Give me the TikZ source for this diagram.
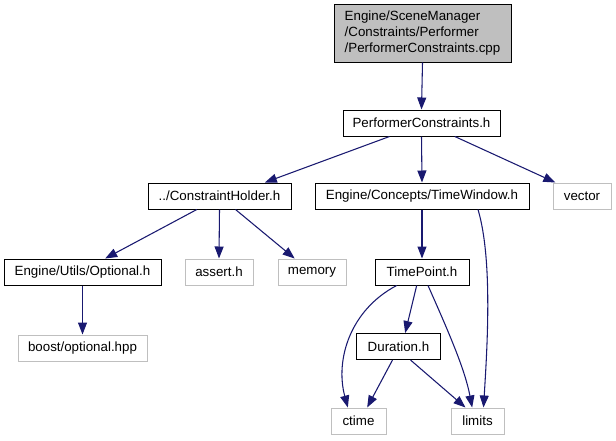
\documentclass[tikz,border=0pt]{standalone}
\usepackage{fontspec}
\setmainfont{Liberation Sans}
\usetikzlibrary{arrows.meta}
\definecolor{edgeblue}{HTML}{191970}
\definecolor{extgray}{HTML}{BFBFBF}
\begin{document}
\begin{tikzpicture}[x=0.75pt,y=-0.75pt,
  every node/.style={font=\fontsize{10}{12}\selectfont, inner sep=0pt, minimum height=19.5pt, line width=0.75pt},
  docnode/.style={draw=black, fill=white},
  extnode/.style={draw=extgray, fill=white},
  rootnode/.style={draw=black, fill=extgray, align=left},
  edge/.style={draw=edgeblue, line width=0.8pt, -{Triangle[length=9pt,width=6.75pt]}}
]
\useasboundingbox (0,0) rectangle (616,440);
\node[rootnode, minimum width=132.75pt, minimum height=43.5pt] (root) at (422.5,33) {Engine/SceneManager\\/Constraints/Performer\\/PerformerConstraints.cpp};
\node[docnode, minimum width=117.75pt] (pc) at (421.5,123) {PerformerConstraints.h};
\node[docnode, minimum width=107.25pt] (ch) at (219.5,196) {../ConstraintHolder.h};
\node[docnode, minimum width=160.5pt] (tw) at (422,196) {Engine/Concepts/TimeWindow.h};
\node[extnode, minimum width=43.5pt] (vec) at (582,196) {vector};
\node[docnode, minimum width=117.75pt] (opt) at (82.5,272) {Engine/Utils/Optional.h};
\node[extnode, minimum width=51pt] (as) at (219,272) {assert.h};
\node[extnode, minimum width=51pt] (mem) at (312,272) {memory};
\node[docnode, minimum width=70.5pt] (tp) at (422,272) {TimePoint.h};
\node[extnode, minimum width=96.75pt] (bo) at (82.5,348) {boost/optional.hpp};
\node[docnode, minimum width=63pt] (dur) at (398.5,346.5) {Duration.h};
\node[extnode, minimum width=41.25pt] (ct) at (358.5,421) {ctime};
\node[extnode, minimum width=39.75pt] (lim) at (477.5,421) {limits};

\draw[edge] (root.south) -- (pc.north);
\draw[edge] ([xshift=-24pt]pc.south) -- ([xshift=34pt]ch.north);
\draw[edge] (pc.south) -- (tw.north);
\draw[edge] ([xshift=25pt]pc.south) -- ([xshift=-20pt]vec.north);
\draw[edge] ([xshift=-17pt]ch.south) -- ([xshift=17pt]opt.north);
\draw[edge] (ch.south) -- (as.north);
\draw[edge] ([xshift=12pt]ch.south) -- ([xshift=-13pt]mem.north);
\draw[edge] (opt.south) -- (bo.north);
\draw[edge] (tw.south) -- (tp.north);
\draw[edge] ([xshift=42pt]tw.south) .. controls (493,260) and (487,350) .. ([xshift=4.5pt]lim.north);
\draw[edge] ([xshift=-19pt]tp.south) .. controls (350,310) and (335,360) .. ([xshift=-8pt]ct.north);
\draw[edge] ([xshift=-4pt]tp.south) -- ([xshift=5pt]dur.north);
\draw[edge] ([xshift=4.5pt]tp.south) .. controls (450,335) and (465,370) .. ([xshift=-4pt]lim.north);
\draw[edge] ([xshift=-4.5pt]dur.south) -- ([xshift=6.5pt]ct.north);
\draw[edge] ([xshift=9pt]dur.south) -- ([xshift=-9pt]lim.north);
\end{tikzpicture}
\end{document}
